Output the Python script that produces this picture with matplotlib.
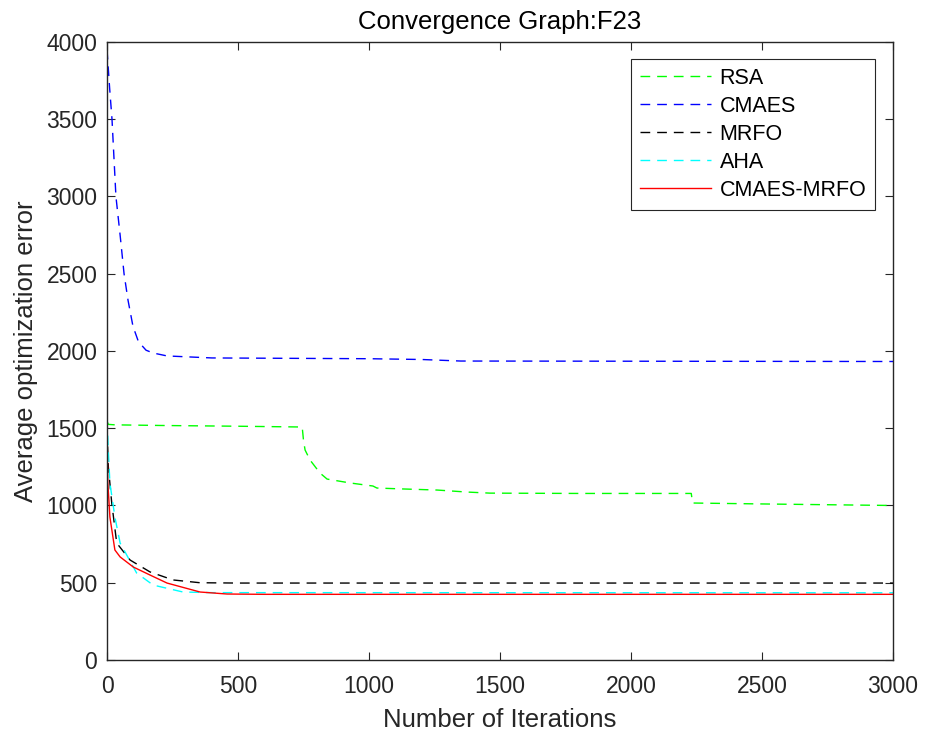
import numpy as np
import matplotlib
matplotlib.use('Agg')
import matplotlib.pyplot as plt

plt.rcParams['font.family'] = ['Liberation Sans', 'DejaVu Sans']

# Values.
rsa_iter = [0, 5, 30, 200, 500, 745, 750, 756, 775, 813, 840, 927, 1015, 1030,
            1130, 1260, 1374, 1462, 1800, 2230, 2235, 2500, 3000]
rsa_val = [1545, 1525, 1522, 1518, 1513, 1508, 1420, 1359, 1294, 1210, 1171, 1146,
           1126, 1113, 1107, 1100, 1087, 1080, 1078, 1078, 1016, 1010, 1000]

cmaes_iter = [0, 10, 19, 34, 50, 65, 80, 99, 120, 149, 176, 229, 400, 1000, 1200,
              1350, 3000]
cmaes_val = [3950, 3700, 3500, 3000, 2750, 2500, 2330, 2160, 2060, 2005, 1987,
             1968, 1955, 1950, 1945, 1935, 1932]

mrfo_iter = [0, 5, 18, 37, 88, 164, 252, 355, 500, 3000]
mrfo_val = [1490, 1250, 1016, 757, 647, 570, 518, 500, 498, 498]

aha_iter = [0, 5, 11, 30, 50, 113, 176, 290, 400, 3000]
aha_val = [1560, 1350, 1146, 925, 757, 563, 485, 440, 436, 435]

hyb_iter = [0, 3, 11, 30, 50, 100, 164, 229, 355, 458, 600, 3000]
hyb_val = [1450, 1150, 925, 712, 667, 602, 550, 498, 440, 427, 425, 425]

fig = plt.figure(figsize=(9.25, 7.38), dpi=100)
ax = fig.add_axes([0.1157, 0.1057, 0.8497, 0.8374])

dash = (0, (7, 5))
ax.plot(rsa_iter, rsa_val, color=(0, 1, 0), lw=1.0, ls=dash, label='RSA')
ax.plot(cmaes_iter, cmaes_val, color=(0, 0, 1), lw=1.0, ls=dash, label='CMAES')
ax.plot(mrfo_iter, mrfo_val, color='black', lw=1.0, ls=dash, label='MRFO')
ax.plot(aha_iter, aha_val, color=(0, 1, 1), lw=1.0, ls=dash, label='AHA')
ax.plot(hyb_iter, hyb_val, color='red', lw=1.0, label='CMAES-MRFO')

ax.set_xlim(0, 3000)
ax.set_ylim(0, 4000)
ax.set_xticks(np.arange(0, 3001, 500))
ax.set_yticks(np.arange(0, 4001, 500))

axis_col = (0.15, 0.15, 0.15)
for s in ax.spines.values():
    s.set_color(axis_col)
    s.set_linewidth(1.0)
ax.tick_params(direction='in', top=True, right=True, length=5.5, width=0.8,
               colors=axis_col, labelsize=16.5)
ax.tick_params(axis='x', pad=11)
ax.tick_params(axis='y', pad=7)

ax.set_xlabel('Number of Iterations', fontsize=18.5, color=axis_col, labelpad=7)
ax.set_ylabel('Average optimization error', fontsize=18.5, color=axis_col, labelpad=6)
ax.set_title('Convergence Graph:F23', fontsize=18.5, pad=9)

leg = ax.legend(loc='upper right', bbox_to_anchor=(0.977, 0.9725), borderaxespad=0,
                fontsize=15.5, handlelength=3.3, labelspacing=0.33, fancybox=False,
                framealpha=1, edgecolor=axis_col, borderpad=0.4, handletextpad=0.4)
leg.get_frame().set_linewidth(0.8)

fig.savefig('out.png', dpi=100)
